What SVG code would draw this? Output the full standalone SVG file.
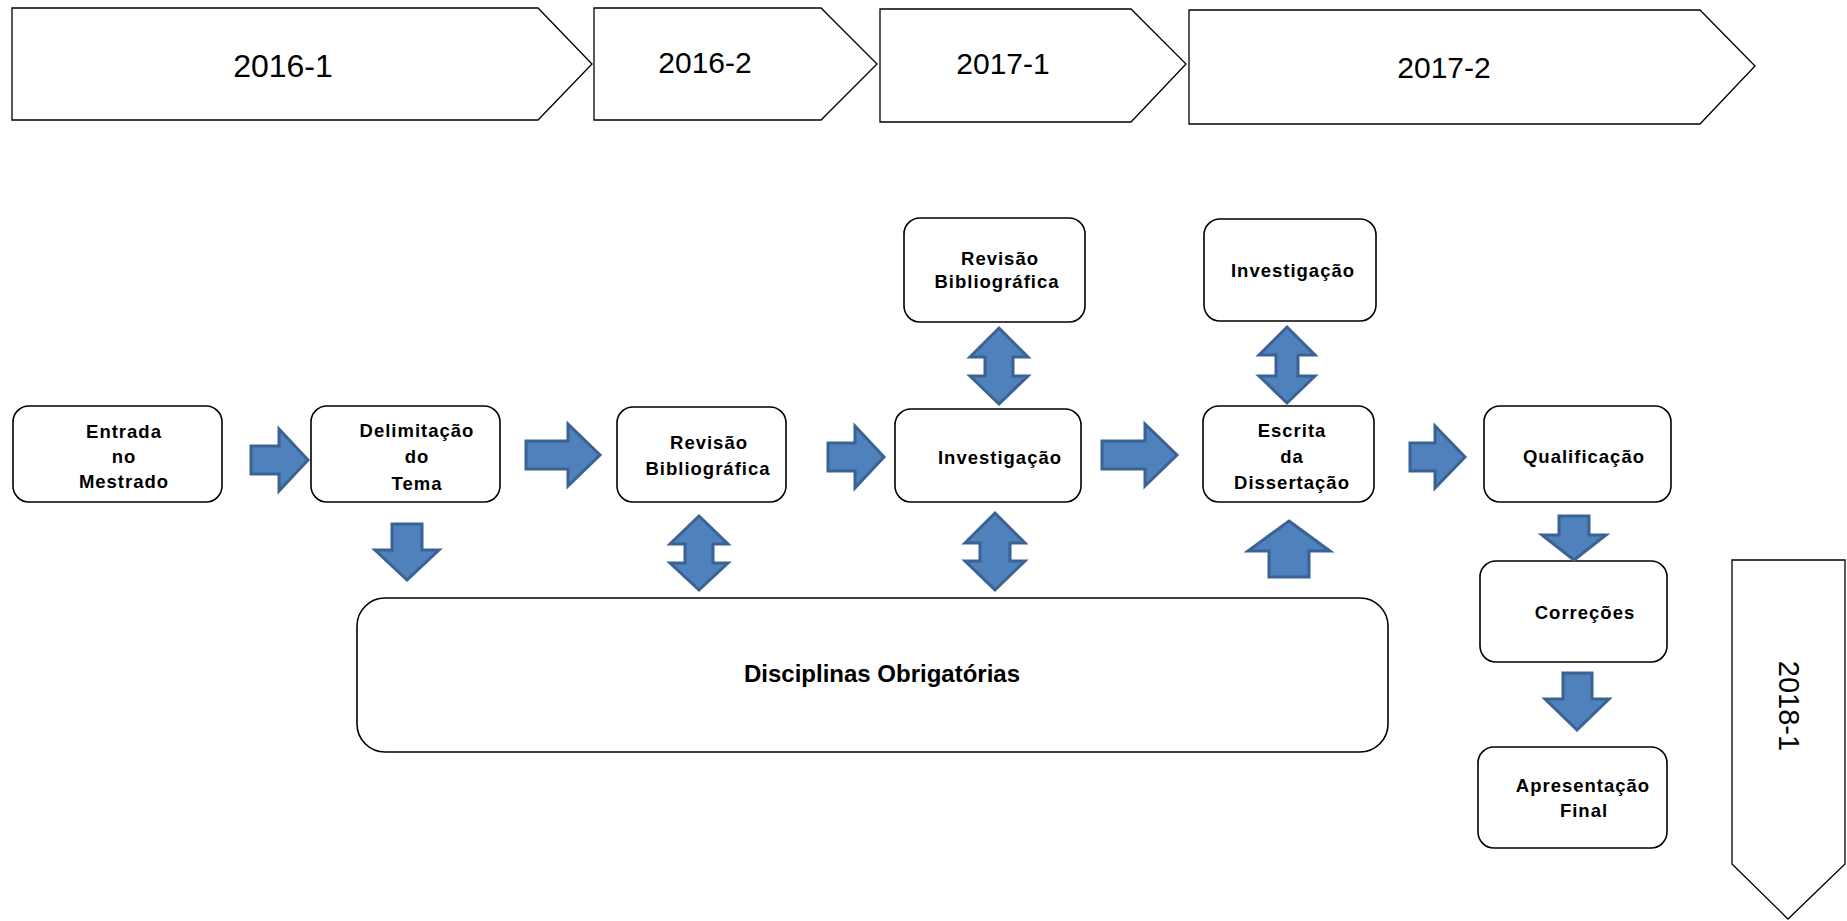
<svg xmlns="http://www.w3.org/2000/svg" width="1847" height="921" viewBox="0 0 1847 921">
<style>
.bg{fill:#ffffff}
.chev{fill:#ffffff;stroke:#000000;stroke-width:1.3}
.yr{font-family:"Liberation Sans",Arial,sans-serif;font-size:30px;fill:#000000;text-anchor:middle}
.box{fill:#ffffff;stroke:#000000;stroke-width:1.6}
.lbl{font-family:"Liberation Sans",Arial,sans-serif;font-size:18.5px;font-weight:bold;letter-spacing:1px;fill:#000000;text-anchor:middle}
.big{font-family:"Liberation Sans",Arial,sans-serif;font-size:24px;font-weight:bold;fill:#000000;text-anchor:middle}
.arr{fill:#4F81BD;stroke:#3A6393;stroke-width:3;stroke-linejoin:miter}
</style>
<rect class="bg" x="0" y="0" width="1847" height="921"/>

<g id="sem-2016-1">
<polygon class="chev" points="12,8 538,8 592,64 538,120 12,120"/>
<text class="yr" x="283" y="77" style="font-size:32px">2016-1</text>
</g>
<g id="sem-2016-2">
<polygon class="chev" points="594,8 821,8 877,64 821,120 594,120"/>
<text class="yr" x="705" y="73">2016-2</text>
</g>
<g id="sem-2017-1">
<polygon class="chev" points="880,9 1131,9 1186,64 1131,122 880,122"/>
<text class="yr" x="1003" y="74">2017-1</text>
</g>
<g id="sem-2017-2">
<polygon class="chev" points="1189,10 1700,10 1755,66 1700,124 1189,124"/>
<text class="yr" x="1444" y="78">2017-2</text>
</g>
<g id="sem-2018-1">
<polygon class="chev" points="1732,560 1845,560 1845,864 1788,919 1732,864"/>
<text class="yr" transform="translate(1789,706) rotate(90)" x="0" y="10" style="font-size:29px">2018-1</text>
</g>

<g id="node-entrada">
<rect class="box" x="13" y="406" width="209" height="96" rx="16"/>
<text class="lbl" x="124" y="438">Entrada</text>
<text class="lbl" x="124" y="463">no</text>
<text class="lbl" x="124" y="488">Mestrado</text>
</g>
<g id="node-delimitacao">
<rect class="box" x="311" y="406" width="189" height="96" rx="16"/>
<text class="lbl" x="417" y="437">Delimitação</text>
<text class="lbl" x="417" y="463">do</text>
<text class="lbl" x="417" y="490">Tema</text>
</g>
<g id="node-revisao">
<rect class="box" x="617" y="407" width="169" height="95" rx="16"/>
<text class="lbl" x="709" y="449">Revisão</text>
<text class="lbl" x="708" y="475">Bibliográfica</text>
</g>
<g id="node-investigacao">
<rect class="box" x="895" y="409" width="186" height="93" rx="16"/>
<text class="lbl" x="1000" y="464">Investigação</text>
</g>
<g id="node-revisao-top">
<rect class="box" x="904" y="218" width="181" height="104" rx="16"/>
<text class="lbl" x="1000" y="265">Revisão</text>
<text class="lbl" x="997" y="288">Bibliográfica</text>
</g>
<g id="node-investigacao-top">
<rect class="box" x="1204" y="219" width="172" height="102" rx="16"/>
<text class="lbl" x="1293" y="277">Investigação</text>
</g>
<g id="node-escrita">
<rect class="box" x="1203" y="406" width="171" height="96" rx="16"/>
<text class="lbl" x="1292" y="437">Escrita</text>
<text class="lbl" x="1292" y="463">da</text>
<text class="lbl" x="1292" y="489">Dissertação</text>
</g>
<g id="node-qualificacao">
<rect class="box" x="1484" y="406" width="187" height="96" rx="16"/>
<text class="lbl" x="1584" y="463">Qualificação</text>
</g>
<g id="node-correcoes">
<rect class="box" x="1480" y="561" width="187" height="101" rx="16"/>
<text class="lbl" x="1585" y="619">Correções</text>
</g>
<g id="node-apresentacao">
<rect class="box" x="1478" y="747" width="189" height="101" rx="16"/>
<text class="lbl" x="1583" y="792">Apresentação</text>
<text class="lbl" x="1584" y="817">Final</text>
</g>
<g id="node-disciplinas">
<rect class="box" x="357" y="598" width="1031" height="154" rx="28"/>
<text class="big" x="882" y="682">Disciplinas Obrigatórias</text>
</g>

<g id="connectors">
<!-- right arrows -->
<polygon class="arr" points="251,446 279,446 279,429 308,460 279,491 279,474 251,474"/>
<polygon class="arr" points="526,441 568,441 568,424 600,455 568,486 568,469 526,469"/>
<polygon class="arr" points="828,443 855,443 855,426 884,457 855,488 855,471 828,471"/>
<polygon class="arr" points="1102,441 1145,441 1145,424 1177,455 1145,486 1145,469 1102,469"/>
<polygon class="arr" points="1410,443 1435,443 1435,426 1465,457 1435,488 1435,471 1410,471"/>
<!-- down arrows -->
<polygon class="arr" points="392,524 422,524 422,550 439,550 407,580 375,550 392,550"/>
<polygon class="arr" points="1559,516 1589,516 1589,535 1606,535 1574,560 1542,535 1559,535"/>
<polygon class="arr" points="1563,673 1592,673 1592,699 1609,699 1577,730 1545,699 1563,699"/>
<!-- up arrow -->
<polygon class="arr" points="1289,521 1330,551 1309,551 1309,577 1269,577 1269,551 1248,551"/>
<!-- up-down arrows -->
<polygon class="arr" points="699,516 728,544 713,544 713,563 728,563 699,590 670,563 685,563 685,544 670,544"/>
<polygon class="arr" points="999,328 1028,357 1013,357 1013,376 1028,376 999,404 970,376 985,376 985,357 970,357"/>
<polygon class="arr" points="995,513 1025,543 1010,543 1010,561 1025,561 995,590 965,561 980,561 980,543 965,543"/>
<polygon class="arr" points="1287,327 1315,355 1298,355 1298,376 1315,376 1287,403 1259,376 1276,376 1276,355 1259,355"/>
</g>
</svg>
